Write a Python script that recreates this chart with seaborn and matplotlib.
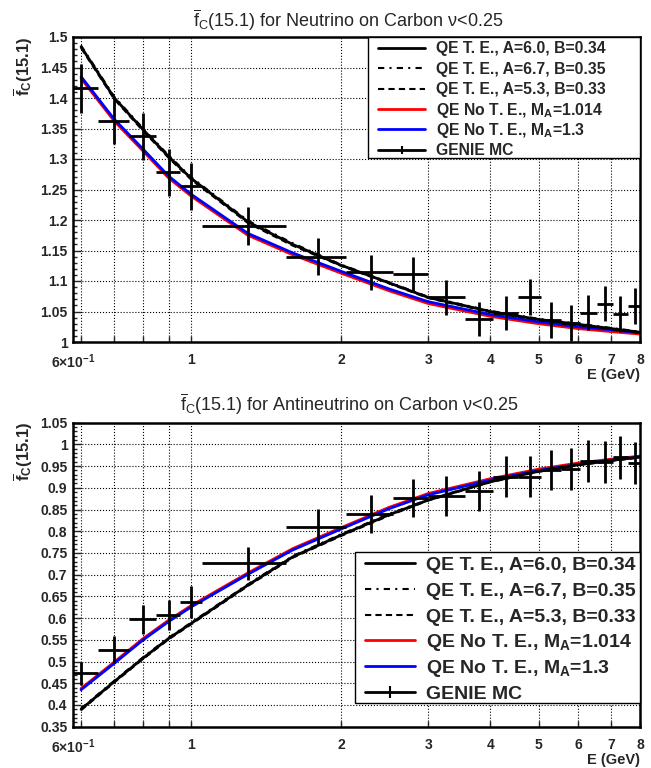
import numpy as np
import pandas as pd
import matplotlib
matplotlib.use("Agg")
import matplotlib.pyplot as plt
import seaborn as sns
from matplotlib.lines import Line2D
from matplotlib.patches import Rectangle
from matplotlib.ticker import FixedLocator, MultipleLocator, FuncFormatter, NullLocator

# ---------------- data ----------------
E_curve = [0.6, 0.7, 0.8, 0.9, 1.0, 1.3, 1.6, 2.0, 2.5, 3.0, 4.0, 5.0, 6.0, 7.0, 8.0]

# neutrino panel
nu_te_a60 = [1.484, 1.400, 1.348, 1.304, 1.268, 1.197, 1.160, 1.126, 1.097, 1.073, 1.050, 1.037, 1.029, 1.022, 1.016]
nu_te_a67 = [1.486, 1.402, 1.350, 1.306, 1.270, 1.199, 1.162, 1.127, 1.098, 1.074, 1.051, 1.038, 1.030, 1.023, 1.017]
nu_te_a53 = [1.482, 1.398, 1.346, 1.302, 1.266, 1.195, 1.158, 1.125, 1.096, 1.072, 1.049, 1.036, 1.028, 1.021, 1.015]
nu_ma1014 = [1.432, 1.362, 1.313, 1.269, 1.239, 1.175, 1.143, 1.113, 1.084, 1.063, 1.042, 1.030, 1.022, 1.017, 1.013]
nu_ma13 = [1.435, 1.365, 1.316, 1.272, 1.242, 1.178, 1.146, 1.116, 1.087, 1.066, 1.045, 1.033, 1.025, 1.020, 1.015]

# antineutrino panel
anu_te_a60 = [0.390, 0.454, 0.508, 0.553, 0.588, 0.676, 0.741, 0.791, 0.838, 0.872, 0.914, 0.938, 0.953, 0.963, 0.971]
anu_te_a67 = [0.392, 0.456, 0.510, 0.555, 0.590, 0.678, 0.743, 0.793, 0.840, 0.873, 0.915, 0.939, 0.954, 0.964, 0.972]
anu_te_a53 = [0.388, 0.452, 0.506, 0.551, 0.586, 0.674, 0.739, 0.789, 0.836, 0.871, 0.913, 0.937, 0.952, 0.962, 0.970]
anu_ma1014 = [0.438, 0.499, 0.553, 0.595, 0.629, 0.704, 0.760, 0.808, 0.855, 0.887, 0.921, 0.943, 0.957, 0.966, 0.973]
anu_ma13 = [0.435, 0.496, 0.550, 0.592, 0.626, 0.701, 0.757, 0.805, 0.852, 0.884, 0.918, 0.940, 0.954, 0.964, 0.971]

# GENIE MC histogram bins
bin_lo = [0.55, 0.65, 0.75, 0.85, 0.95, 1.05, 1.55, 2.05, 2.55, 3.0, 3.55, 4.05, 4.55, 5.05, 5.55, 6.05, 6.55, 7.05, 7.55]
bin_hi = [0.65, 0.75, 0.85, 0.95, 1.05, 1.55, 2.05, 2.55, 3.0, 3.55, 4.05, 4.55, 5.05, 5.55, 6.05, 6.55, 7.05, 7.55, 8.05]
bin_c = [0.6, 0.7, 0.8, 0.9, 1.0, 1.3, 1.8, 2.3, 2.8, 3.25, 3.8, 4.3, 4.8, 5.3, 5.8, 6.3, 6.8, 7.3, 7.8]

nu_genie = [1.416, 1.363, 1.337, 1.278, 1.255, 1.190, 1.140, 1.114, 1.111, 1.073, 1.038, 1.048, 1.074, 1.036, 1.031, 1.048, 1.063, 1.046, 1.059]
nu_genie_err = [0.040, 0.039, 0.039, 0.039, 0.039, 0.031, 0.030, 0.029, 0.029, 0.028, 0.028, 0.028, 0.029, 0.029, 0.030, 0.029, 0.029, 0.029, 0.029]

anu_genie = [0.473, 0.527, 0.597, 0.607, 0.637, 0.726, 0.810, 0.840, 0.876, 0.881, 0.893, 0.926, 0.926, 0.941, 0.943, 0.962, 0.960, 0.970, 0.957]
anu_genie_err = [0.027, 0.031, 0.034, 0.035, 0.036, 0.038, 0.042, 0.044, 0.044, 0.046, 0.046, 0.047, 0.047, 0.046, 0.048, 0.049, 0.049, 0.050, 0.049]

x_ticks = [0.6, 0.7, 0.8, 0.9, 1, 2, 3, 4, 5, 6, 7, 8]
x_tick_labels = ["", "", "", "", "1", "2", "3", "4", "5", "6", "7", "8"]

legend_labels = ["QE T. E., A=6.0, B=0.34",
                 "QE T. E., A=6.7, B=0.35",
                 "QE T. E., A=5.3, B=0.33",
                 r"QE No T. E., M$_\mathbf{A}$=1.014",
                 r"QE No T. E., M$_\mathbf{A}$=1.3",
                 "GENIE MC"]

# ---------------- style ----------------
sns.set_style("white")
plt.rcParams["font.family"] = ["Liberation Sans", "DejaVu Sans"]
plt.rcParams["mathtext.fontset"] = "custom"
plt.rcParams["mathtext.rm"] = "Liberation Sans"
plt.rcParams["mathtext.it"] = "Liberation Sans:italic"
plt.rcParams["mathtext.bf"] = "Liberation Sans:bold"
plt.rcParams["axes.grid"] = True
plt.rcParams["axes.axisbelow"] = True
plt.rcParams["grid.color"] = "black"
plt.rcParams["grid.linestyle"] = ":"
plt.rcParams["grid.linewidth"] = 0.8
plt.rcParams["grid.alpha"] = 1.0

W, H = 651, 768
fig = plt.figure(figsize=(W / 100, H / 100), dpi=100)
fig.patch.set_facecolor("white")

DASHDOT = (0, (3, 2.5, 1, 2.5))
DASHED = (0, (3, 2))


def fx(px):
    return px / W


def fy(py):
    return 1 - py / H


def make_panel(ax_rect, ylim, te60, te67, te53, ma1014, ma13, gen, gen_err):
    ax = fig.add_axes(ax_rect)
    ax.set_facecolor("white")
    ax.set_xscale("log")
    ax.set_xlim(0.578, 8)
    ax.set_ylim(*ylim)

    sns.lineplot(x=E_curve, y=ma1014, ax=ax, color="#ff0000", lw=2.0, zorder=2)
    sns.lineplot(x=E_curve, y=ma13, ax=ax, color="#0000ff", lw=2.0, zorder=2.1)
    sns.lineplot(x=E_curve, y=te67, ax=ax, color="k", lw=1.5, linestyle=DASHDOT, zorder=2.2)
    sns.lineplot(x=E_curve, y=te53, ax=ax, color="k", lw=1.5, linestyle=DASHED, zorder=2.2)
    sns.lineplot(x=E_curve, y=te60, ax=ax, color="k", lw=2.0, zorder=2.3)

    c = np.array(bin_c)
    xerr = [c - np.array(bin_lo), np.array(bin_hi) - c]
    ax.errorbar(bin_c, gen, yerr=gen_err, xerr=xerr, fmt="none",
                ecolor="k", elinewidth=2.0, capsize=0, zorder=3)

    ax.xaxis.set_major_locator(FixedLocator(x_ticks))
    ax.xaxis.set_minor_locator(NullLocator())
    ax.set_xticklabels(x_tick_labels, fontweight="bold", fontsize=10)
    ax.yaxis.set_major_locator(MultipleLocator(0.05))
    ax.yaxis.set_minor_locator(MultipleLocator(0.01))
    ax.yaxis.set_major_formatter(FuncFormatter(lambda v, p: f"{round(v, 2):g}"))
    ax.tick_params(axis="y", which="major", direction="in", length=6, width=1,
                   labelsize=10, pad=4, left=True, right=False)
    ax.tick_params(axis="y", which="minor", direction="in", length=3, width=1,
                   left=True, right=False)
    ax.tick_params(axis="x", which="major", direction="in", length=4, width=1,
                   labelsize=10, pad=8, bottom=True, top=False)
    for lab in ax.get_yticklabels() + ax.get_xticklabels():
        lab.set_fontweight("bold")

    ax.grid(True, which="major", linestyle=":", color="black", linewidth=0.8)
    ax.grid(False, which="minor")
    for s in ax.spines.values():
        s.set_visible(True)
        s.set_color("k")
        s.set_linewidth(1.8)
    ax.set_xlabel("")
    ax.set_ylabel("")
    ax.text(0.0, -0.035, r"$\mathbf{6{\times}10^{-1}}$", transform=ax.transAxes,
            ha="center", va="top", fontsize=10)
    return ax


def frac(x0, y_top, x1, y_bot):
    return [x0 / W, 1 - y_bot / H, (x1 - x0) / W, (y_bot - y_top) / H]


ax1 = make_panel(frac(73, 37, 640, 342), (1.0, 1.5),
                 nu_te_a60, nu_te_a67, nu_te_a53, nu_ma1014, nu_ma13, nu_genie, nu_genie_err)
ax2 = make_panel(frac(73, 422.7, 640, 726.7), (0.35, 1.05),
                 anu_te_a60, anu_te_a67, anu_te_a53, anu_ma1014, anu_ma13, anu_genie, anu_genie_err)

# ---------------- legends (drawn as fixed-layout boxes) ----------------
legend_styles = [dict(color="k", lw=2),
                 dict(color="k", lw=1.5, linestyle=DASHDOT),
                 dict(color="k", lw=1.5, linestyle=DASHED),
                 dict(color="#ff0000", lw=2),
                 dict(color="#0000ff", lw=2),
                 dict(color="k", lw=2)]


def draw_legend(box, y_first, dy, xs0, xs1, xt, size, tick_ms):
    x0, y0, x1, y1 = box
    fig.add_artist(Rectangle((fx(x0), fy(y1)), fx(x1) - fx(x0), fy(y0) - fy(y1),
                             transform=fig.transFigure, facecolor="white",
                             edgecolor="k", linewidth=1.0, zorder=5))
    cap = 0.716 * size * 100 / 72.0
    for i, (lab, st) in enumerate(zip(legend_labels, legend_styles)):
        yc = y_first + i * dy
        ln = Line2D([fx(xs0), fx((xs0 + xs1) / 2), fx(xs1)], [fy(yc)] * 3,
                    transform=fig.transFigure, zorder=6, **st)
        if i == 5:
            ln.set_marker("|")
            ln.set_markevery([1])
            ln.set_markersize(tick_ms)
            ln.set_markeredgewidth(1.5)
        fig.add_artist(ln)
        fig.text(fx(xt), fy(yc + cap / 2), lab, ha="left", va="baseline",
                 fontsize=size, fontweight="bold", zorder=7)


draw_legend((367.7, 37, 640, 158.3), 47.7, 20.4, 378, 425, 436, 11.3, 6)
draw_legend((355, 551.7, 640, 703.3), 563.3, 25.7, 365, 415, 426, 14, 9)

# titles
fig.text(fx(348), fy(20),
         r"$\overline{\mathrm{f}}_{\mathrm{C}}$(15.1) for Neutrino on Carbon ν<0.25",
         ha="center", va="center", fontsize=13)
fig.text(fx(349), fy(404),
         r"$\overline{\mathrm{f}}_{\mathrm{C}}$(15.1) for Antineutrino on Carbon ν<0.25",
         ha="center", va="center", fontsize=13)

# y labels
for ytop in (37, 421.7):
    fig.text(fx(23), fy(ytop), r"$\overline{\mathbf{f}}_{\mathbf{C}}$(15.1)",
             rotation=90, ha="center", va="top", fontsize=12, fontweight="bold")

# x labels
for yc in (375, 760):
    fig.text(fx(640), fy(yc), "E (GeV)", ha="right", va="center",
             fontsize=10.5, fontweight="bold")

fig.savefig("out.png", dpi=100, facecolor="white")
